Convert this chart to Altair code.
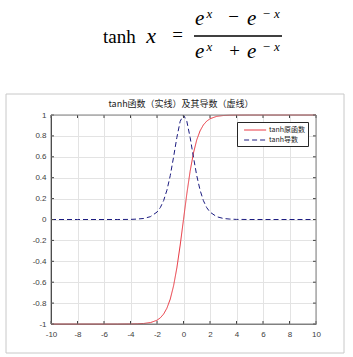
import altair as alt
import pandas as pd

# ---------------- data ----------------
x_vals = [-10, -8, -6, -5, -4, -3.5, -3, -2.5, -2, -1.75, -1.5, -1.25, -1, -0.75, -0.5, -0.25, 0,
          0.25, 0.5, 0.75, 1, 1.25, 1.5, 1.75, 2, 2.5, 3, 3.5, 4, 5, 6, 8, 10]
tanh_vals = [-1.000, -1.000, -1.000, -1.000, -0.999, -0.998, -0.995, -0.987, -0.964, -0.941, -0.905,
             -0.848, -0.762, -0.635, -0.462, -0.245, 0.000,
             0.245, 0.462, 0.635, 0.762, 0.848, 0.905, 0.941, 0.964, 0.987, 0.995, 0.998, 0.999,
             1.000, 1.000, 1.000, 1.000]
dtanh_vals = [0.000, 0.000, 0.000, 0.000, 0.001, 0.004, 0.010, 0.027, 0.071, 0.114, 0.181,
              0.281, 0.420, 0.597, 0.786, 0.940, 1.000,
              0.940, 0.786, 0.597, 0.420, 0.281, 0.181, 0.114, 0.071, 0.027, 0.010, 0.004, 0.001,
              0.000, 0.000, 0.000, 0.000]
series_names = ["tanh原函数", "tanh导数"]
series_colors = ["#e8323c", "#1c1c80"]
x_ticks = [-10, -8, -6, -4, -2, 0, 2, 4, 6, 8, 10]
y_ticks = [-1, -0.8, -0.6, -0.4, -0.2, 0, 0.2, 0.4, 0.6, 0.8, 1]
chart_title = "tanh函数（实线）及其导数（虚线）"

W, H = 265, 209

rows = []
for xv, a, b in zip(x_vals, tanh_vals, dtanh_vals):
    rows.append({"x": xv, "y": a, "s": series_names[0]})
    rows.append({"x": xv, "y": b, "s": series_names[1]})
df = pd.DataFrame(rows)

xscale = alt.Scale(domain=[-10, 10], nice=False, zero=False)
yscale = alt.Scale(domain=[-1, 1], nice=False, zero=False)
lab_expr = "replace(format(datum.value, '~g'), '\u2212', '-')"

x_axis = alt.Axis(title=None, values=x_ticks, grid=True, ticks=False, labelPadding=6,
                  labelOverlap=False, labelFlush=False,
                  domainColor="#808080", labelExpr=lab_expr)
y_axis = alt.Axis(title=None, values=y_ticks, grid=True, ticks=False, labelPadding=5,
                  labelOverlap=False, labelFlush=False,
                  domainColor="#1a1a1a", labelExpr=lab_expr)

legend = alt.Legend(
    title=None, orient="none", legendX=186, legendY=7,
    symbolType="M-0.2,0H4.7", symbolSize=81, symbolStrokeWidth=1,
    labelFont="Noto Sans CJK SC", labelFontSize=7, labelColor="#222",
    labelOffset=19, padding=3, rowPadding=2,
    strokeColor="#262626", fillColor="white", cornerRadius=0,
)

one = alt.Data(values=[{"k": 1}])

frame = alt.Chart(one).mark_rect(fillOpacity=0, stroke="#c8c8c8", strokeWidth=1).encode(
    x=alt.value(-45), x2=alt.value(293), y=alt.value(-21), y2=alt.value(238))

lines = alt.Chart(df).mark_line(strokeWidth=1).encode(
    x=alt.X("x:Q", scale=xscale, axis=x_axis),
    y=alt.Y("y:Q", scale=yscale, axis=y_axis),
    color=alt.Color("s:N", scale=alt.Scale(domain=series_names, range=series_colors), legend=legend),
    strokeDash=alt.StrokeDash("s:N", scale=alt.Scale(domain=series_names, range=[[1, 0], [5, 3]]),
                              legend=legend),
    order=alt.Order("x:Q"),
)

xt = pd.DataFrame({"x": x_ticks})
yt = pd.DataFrame({"y": y_ticks})
tick_col = "#404040"
tb = alt.Chart(xt).mark_rule(color=tick_col).encode(
    x=alt.X("x:Q", scale=xscale, axis=x_axis), y=alt.value(H), y2=alt.value(H - 3))
tt = alt.Chart(xt).mark_rule(color=tick_col).encode(
    x=alt.X("x:Q", scale=xscale, axis=x_axis), y=alt.value(0), y2=alt.value(3))
tl = alt.Chart(yt).mark_rule(color=tick_col).encode(
    y=alt.Y("y:Q", scale=yscale, axis=y_axis), x=alt.value(0), x2=alt.value(3))
tr = alt.Chart(yt).mark_rule(color=tick_col).encode(
    y=alt.Y("y:Q", scale=yscale, axis=y_axis), x=alt.value(W), x2=alt.value(W - 3))

box = alt.Chart(one).mark_rect(fillOpacity=0, stroke="#808080", strokeWidth=1).encode(
    x=alt.value(0), x2=alt.value(W), y=alt.value(0), y2=alt.value(H))


def txt(s, x, y, size, italic=False, align="left", font="Liberation Serif", color="black"):
    kw = dict(text=s, fontSize=size, font=font, align=align, baseline="alphabetic", color=color)
    if italic:
        kw["fontStyle"] = "italic"
    return alt.Chart(one).mark_text(**kw).encode(x=alt.value(x), y=alt.value(y))


formula = [
    txt("tanh", 52, -72, 19),
    txt("x", 100, -72, 22, italic=True, align="center"),
    txt("=", 126.5, -74, 19, align="center"),
    txt("e", 144, -90, 21, italic=True),
    txt("x", 158.5, -97, 13, italic=True, align="center"),
    txt("\u2212", 182.5, -92, 19, align="center"),
    txt("e", 196, -90, 21, italic=True),
    txt("\u2212", 215.5, -97, 13, align="center"),
    txt("x", 226, -97, 13, italic=True, align="center"),
    txt("e", 144, -57, 21, italic=True),
    txt("x", 158.5, -64, 13, italic=True, align="center"),
    txt("+", 183.5, -58, 19, align="center"),
    txt("e", 196, -57, 21, italic=True),
    txt("\u2212", 215.5, -64, 13, align="center"),
    txt("x", 226, -64, 13, italic=True, align="center"),
]
bar = alt.Chart(one).mark_rule(color="black", strokeWidth=1.5).encode(
    x=alt.value(143), x2=alt.value(231), y=alt.value(-79))

title = txt(chart_title, 130, -8, 9, align="center", font="Noto Sans CJK SC", color="#222")

chart = alt.layer(frame, lines, tb, tt, tl, tr, box, bar, title, *formula).properties(
    width=W, height=H,
    autosize=alt.AutoSizeParams(type="none"),
    padding={"left": 51, "top": 115, "right": 37, "bottom": 33},
    background="white",
).resolve_scale(x="shared", y="shared").configure_view(stroke=None).configure_axis(
    gridColor="#e3e3e3", gridWidth=1, labelFont="Liberation Sans", labelFontSize=8,
    labelColor="#404040", domainWidth=1, labelOverlap=False,
)

chart.save("out.html", embed_options={"renderer": "svg", "actions": False})
